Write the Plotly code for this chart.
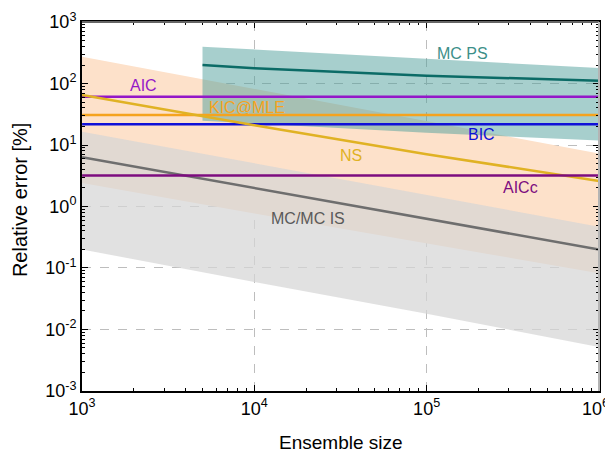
import numpy as np
import plotly.graph_objects as go

# ── Data ────────────────────────────────────────────────────────────────────
ENSEMBLE = [1e3, 1e4, 1e5, 1e6]
ENSEMBLE_PS = [5e3, 1e4, 1e5, 1e6]

MC_MEAN = [6.3, 2.0, 0.64, 0.2]
MC_UPPER = [16.5, 5.0, 1.53, 0.47]
MC_LOWER = [0.2, 0.059, 0.018, 0.0052]

NS_MEAN = [65, 21, 7.1, 2.6]
NS_UPPER = [273, 81.7, 24.4, 7.3]
NS_LOWER = [2.4, 0.77, 0.25, 0.082]

PS_MEAN = [200, 177, 134, 111]
PS_UPPER = [398, 358, 251, 178]
PS_LOWER = [24.8, 22.4, 15.9, 11.8]

AIC_VAL = 61
KIC_VAL = 30.7
BIC_VAL = 21.7
AICC_VAL = 3.2

X_TICKS = [1e3, 1e4, 1e5, 1e6]
Y_TICKS = [1e-3, 1e-2, 1e-1, 1e0, 1e1, 1e2, 1e3]

FONT = "Arial, Liberation Sans, sans-serif"

C_MC = "#6e6e6e"
C_NS = "#e0b224"
C_PS = "#0b6b66"
C_AIC = "#9417c8"
C_KIC = "#f5a31e"
C_BIC = "#1010d8"
C_AICC = "#7d0c7f"


def band(x, lo, hi, color, name):
    return go.Scatter(
        x=list(x) + list(x)[::-1],
        y=list(hi) + list(lo)[::-1],
        fill="toself", fillcolor=color, mode="lines",
        line=dict(width=0), hoverinfo="skip", showlegend=False, name=name,
    )


def line(x, y, color, name, width=2.5):
    return go.Scatter(x=x, y=y, mode="lines", line=dict(color=color, width=width),
                      showlegend=False, name=name)


def pow_label(v):
    return f"10<sup>{int(round(np.log10(v)))}</sup>"


fig = go.Figure()
fig.add_trace(band(ENSEMBLE, NS_LOWER, NS_UPPER, "rgb(253,225,202)", "NS band"))
fig.add_trace(band(ENSEMBLE, MC_LOWER, MC_UPPER, "rgba(214,214,214,0.72)", "MC band"))
fig.add_trace(band(ENSEMBLE_PS, PS_LOWER, PS_UPPER, "rgba(80,160,155,0.5)", "PS band"))

fig.add_trace(line(ENSEMBLE, MC_MEAN, C_MC, "MC/MC IS"))
fig.add_trace(line(ENSEMBLE_PS, PS_MEAN, C_PS, "MC PS"))
ends = [ENSEMBLE[0], ENSEMBLE[-1]]
fig.add_trace(line(ends, [AIC_VAL] * 2, C_AIC, "AIC"))
fig.add_trace(line(ends, [KIC_VAL] * 2, C_KIC, "KIC@MLE"))
fig.add_trace(line(ends, [BIC_VAL] * 2, C_BIC, "BIC"))
fig.add_trace(line(ENSEMBLE, NS_MEAN, C_NS, "NS"))
fig.add_trace(line(ends, [AICC_VAL] * 2, C_AICC, "AICc"))

# ── Labels ──────────────────────────────────────────────────────────────────
labels = [
    ("MC PS", 5.211, 2.496, "#3d8f89"),
    ("AIC", 3.354, 1.976, C_AIC),
    ("KIC@MLE", 3.958, 1.618, C_KIC),
    ("BIC", 5.321, 1.163, C_BIC),
    ("NS", 4.561, 0.837, C_NS),
    ("AICc", 5.542, 0.317, C_AICC),
    ("MC/MC IS", 4.312, -0.187, "#5a5a5a"),
]
for txt, x, y, c in labels:
    fig.add_annotation(x=x, y=y, text=txt, showarrow=False,
                       font=dict(family=FONT, size=16, color=c))

# axis titles as annotations for exact placement
fig.add_annotation(x=-0.12, y=0.52, xref="paper", yref="paper", text="Relative error [%]",
                   textangle=-90, showarrow=False, xanchor="center", yanchor="middle",
                   font=dict(family=FONT, size=20, color="black"))
fig.add_annotation(x=0.5, y=-0.105, xref="paper", yref="paper", text="Ensemble size",
                   showarrow=False, xanchor="center", yanchor="top",
                   font=dict(family=FONT, size=19, color="black"))

# last x tick label sits at the page edge: draw it as an annotation, nudged left
fig.add_annotation(x=np.log10(X_TICKS[-1]), y=0, xref="x", yref="paper",
                   text=pow_label(X_TICKS[-1]), showarrow=False,
                   xanchor="center", yanchor="top", xshift=-3, yshift=-3,
                   font=dict(family=FONT, size=18, color="black"))

# grey top / right frame
fig.add_shape(type="line", xref="paper", yref="paper", x0=0, x1=1, y0=1, y1=1,
              line=dict(color="#666666", width=2), layer="above")
fig.add_shape(type="line", xref="paper", yref="paper", x0=1, x1=1, y0=0, y1=1,
              line=dict(color="#b4b4b4", width=2), layer="above")

axis_common = dict(
    type="log", showline=True, linecolor="black", linewidth=2, mirror="ticks",
    ticks="inside", ticklen=6, tickcolor="black", automargin=False,
    ticklabeloverflow="allow",
    showgrid=True, gridcolor="#bdbdbd", griddash="dash", gridwidth=1,
    zeroline=False,
    minor=dict(ticks="inside", ticklen=3, tickcolor="black", showgrid=False, dtick="D1"),
    tickfont=dict(family=FONT, size=18, color="black"),
)

# the page body adds an 8px offset, so the figure is sized 8px smaller
fig.update_layout(
    width=605, height=450,
    plot_bgcolor="white", paper_bgcolor="white",
    margin=dict(l=74, r=14, t=14, b=67),
    font=dict(family=FONT, size=16, color="black"),
    xaxis=dict(**axis_common, range=[2.9995, 6.0005],
               tickvals=X_TICKS,
               ticktext=[pow_label(v) for v in X_TICKS[:-1]] + [""]),
    yaxis=dict(**axis_common, range=[-3.0005, 3.0005],
               tickvals=Y_TICKS, ticktext=[pow_label(v) for v in Y_TICKS]),
)

fig.write_html("out.html")
